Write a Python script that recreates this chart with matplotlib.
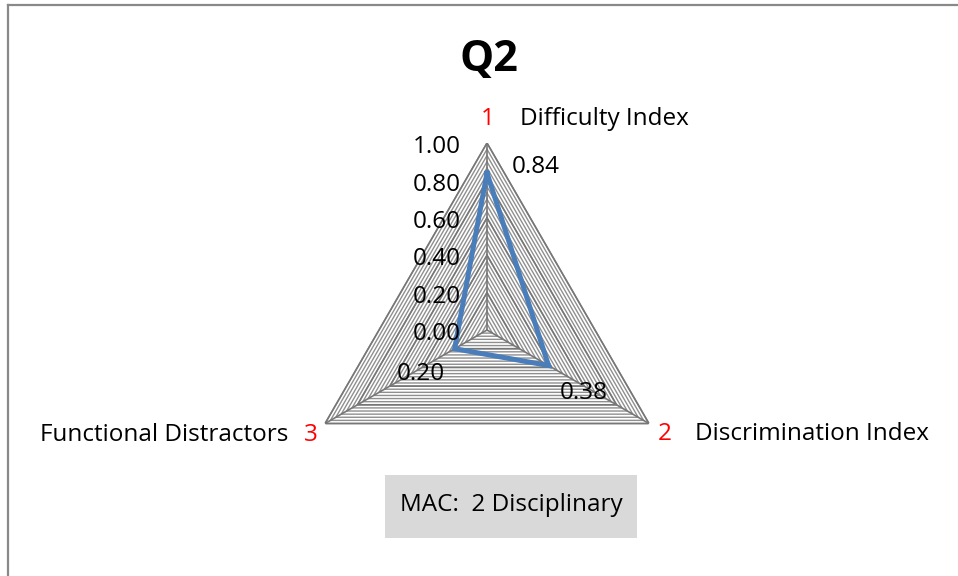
import numpy as np
import matplotlib
matplotlib.use("Agg")
import matplotlib.pyplot as plt
from matplotlib.patches import Rectangle
from matplotlib.lines import Line2D

# data
categories = ["Difficulty Index", "Discrimination Index", "Functional Distractors"]
cat_numbers = ["1", "2", "3"]
values = [0.84, 0.38, 0.20]
value_labels = ["0.84", "0.38", "0.20"]
tick_values = [0.0, 0.2, 0.4, 0.6, 0.8, 1.0]
tick_labels = ["0.00", "0.20", "0.40", "0.60", "0.80", "1.00"]
title = "Q2"
note = "MAC:  2 Disciplinary"

plt.rcParams['font.family'] = ['Open Sans', 'DejaVu Sans']
FS = 17.5

W, H = 958, 576
fig = plt.figure(figsize=(W / 100, H / 100), dpi=100)

# polar area: centre (487, 330) px, radius 187 px
cx, cy, R = 487, 330, 187
ax = fig.add_axes([(cx - R) / W, (H - cy - R) / H, 2 * R / W, 2 * R / H],
                  projection="polar")
ax.set_theta_zero_location("N")
ax.set_theta_direction(-1)
ax.set_ylim(0, 1)
ax.grid(False)
ax.set_xticks([])
ax.set_yticks([])
ax.spines["polar"].set_visible(False)
ax.patch.set_alpha(0)

n = len(categories)
theta = np.arange(n) * 2 * np.pi / n
theta_closed = np.append(theta, theta[0])

# dense triangle gridlines, darker ones at each major tick
fine = np.arange(1, 31) / 30.0
for r in fine:
    ax.plot(theta_closed, [r] * (n + 1), color="#8f8f8f", lw=1.0, zorder=1)
for r in tick_values[1:]:
    ax.plot(theta_closed, [r] * (n + 1), color="#777777", lw=1.2, zorder=2)
for t in theta:
    ax.plot([t, t], [0, 1], color="#777777", lw=1.2, zorder=2)

# series
vals_closed = values + values[:1]
ax.plot(theta_closed, vals_closed, color="#4a7ebb", lw=3.6, zorder=5,
        solid_joinstyle="miter")

# value axis labels
for r, lab in zip(tick_values, tick_labels):
    ax.annotate(lab, xy=(0, r), xytext=(-19, -3), textcoords="offset points",
                ha="right", va="center", fontsize=FS, zorder=6)

# data labels
dl_offsets = [((18, 4.5), "left"), ((8, -19.5), "left"), ((-7, -18.5), "right")]
for t, v, lab, (off, ha) in zip(theta, values, value_labels, dl_offsets):
    ax.annotate(lab, xy=(t, v), xytext=off, textcoords="offset points",
                ha=ha, va="center", fontsize=FS, zorder=6)

# category labels with red numbers
num_offsets = [(0.7, 17.2), (11.5, -7.5), (-10, -8.5)]
name_offsets = [((24, 17.2), "left"), ((33, -7.5), "left"), ((-26.6, -8.5), "right")]
for t, num, name, noff, (off, ha) in zip(theta, cat_numbers, categories,
                                        num_offsets, name_offsets):
    ax.annotate(num, xy=(t, 1), xytext=noff, textcoords="offset points",
                ha="center", va="center", fontsize=FS, color="red",
                annotation_clip=False)
    ax.annotate(name, xy=(t, 1), xytext=off, textcoords="offset points",
                ha=ha, va="center", fontsize=FS, annotation_clip=False)

# title
fig.text(489 / W, 1 - 59 / H, title, ha="center", va="center",
         fontsize=31, fontweight="bold")

# note box
fig.add_artist(Rectangle((385 / W, 1 - 538 / H), 252 / W, 63 / H,
                         transform=fig.transFigure, facecolor="#d9d9d9",
                         edgecolor="none"))
fig.text(511 / W, 1 - 505 / H, note, ha="center", va="center", fontsize=FS)

# chart border (left and top visible)
fig.add_artist(Line2D([7.5 / W, 7.5 / W], [0, 1 - 4.5 / H],
                      transform=fig.transFigure, color="#898989", lw=1.6))
fig.add_artist(Line2D([7.5 / W, 1], [1 - 4.5 / H, 1 - 4.5 / H],
                      transform=fig.transFigure, color="#898989", lw=1.6))

fig.savefig("out.png", dpi=100, facecolor="white")
